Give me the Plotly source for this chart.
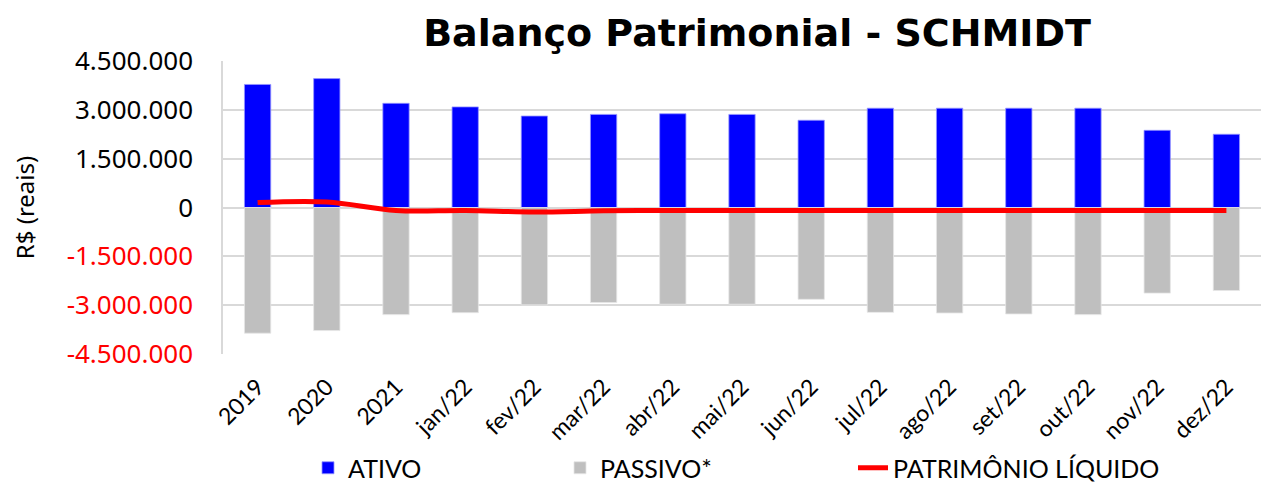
import plotly.graph_objects as go

categories = ["2019", "2020", "2021", "jan/22", "fev/22", "mar/22", "abr/22", "mai/22",
              "jun/22", "jul/22", "ago/22", "set/22", "out/22", "nov/22", "dez/22"]
ativo = [3780000, 3960000, 3200000, 3090000, 2810000, 2860000, 2880000, 2860000,
         2680000, 3050000, 3050000, 3050000, 3050000, 2370000, 2250000]
passivo = [-3860000, -3780000, -3290000, -3230000, -2990000, -2920000, -2970000, -2970000,
           -2820000, -3220000, -3240000, -3270000, -3290000, -2630000, -2550000]
patrimonio = [150000, 170000, -90000, -90000, -140000, -100000, -90000, -90000,
              -90000, -90000, -90000, -90000, -90000, -90000, -90000]

ytick_vals = [4500000, 3000000, 1500000, 0, -1500000, -3000000, -4500000]
ytick_text = ["4.500.000", "3.000.000", "1.500.000", "0",
              "<span style='color:#FF0000'>-1.500.000</span>",
              "<span style='color:#FF0000'>-3.000.000</span>",
              "<span style='color:#FF0000'>-4.500.000</span>"]

# the page body has an 8px margin, so the figure is drawn 8px smaller
W, H = 1270, 474
L, R, T, B = 215, 17, 53, 128
pw = W - L - R

def px(x):
    return (x - L) / pw

fig = go.Figure()
fig.add_trace(go.Bar(x=categories, y=ativo, name="ATIVO", marker_color="#0000FF",
                     marker_line=dict(color="rgba(150,150,255,0.8)", width=1),
                     width=0.38, legend="legend"))
fig.add_trace(go.Bar(x=categories, y=passivo, name="PASSIVO*", marker_color="#BFBFBF",
                     marker_line=dict(color="rgba(230,230,230,0.8)", width=1),
                     width=0.38, legend="legend2"))
fig.add_trace(go.Scatter(x=categories, y=patrimonio, name="PATRIMÔNIO LÍQUIDO",
                         mode="lines", line=dict(color="#FF0000", width=5, shape="spline"),
                         legend="legend3"))

legfont = dict(family="Lato", size=25, color="#000000")
common = dict(orientation="h", yref="container", yanchor="middle", y=1 - 460 / H,
              xanchor="left", font=legfont, bgcolor="rgba(0,0,0,0)", borderwidth=0)

fig.update_layout(
    width=W, height=H,
    margin=dict(l=L, r=R, t=T, b=B, autoexpand=False),
    plot_bgcolor="white", paper_bgcolor="white",
    barmode="relative",
    title=dict(text="<b>Balanço Patrimonial - SCHMIDT</b>", x=749 / W, xanchor="center",
               y=1 - 25 / H, yanchor="middle",
               font=dict(family="DejaVu Sans", size=38, color="#000000")),
    legend=dict(x=px(300), **common),
    legend2=dict(x=px(552), **common),
    legend3=dict(x=px(845), **common),
    xaxis=dict(tickangle=-45, tickfont=dict(family="Lato", size=23, color="#000000"),
               ticklabelstandoff=14,
               showgrid=False, showline=False, ticks="", automargin=False),
    yaxis=dict(range=[-4500000, 4500000], tickvals=ytick_vals, ticktext=ytick_text,
               tickfont=dict(family="Noto Sans", size=26, color="#000000"),
               ticklabelstandoff=23, automargin=False,
               gridcolor="#D9D9D9", gridwidth=1.5, zeroline=True, zerolinecolor="#D9D9D9",
               zerolinewidth=1.5, showline=True, linecolor="#D9D9D9", linewidth=1.5,
               title=dict(text="R$ (reais)", font=dict(family="Noto Sans", size=24, color="#000000"),
                          standoff=25)),
    showlegend=True,
)

fig.write_html("out.html")
